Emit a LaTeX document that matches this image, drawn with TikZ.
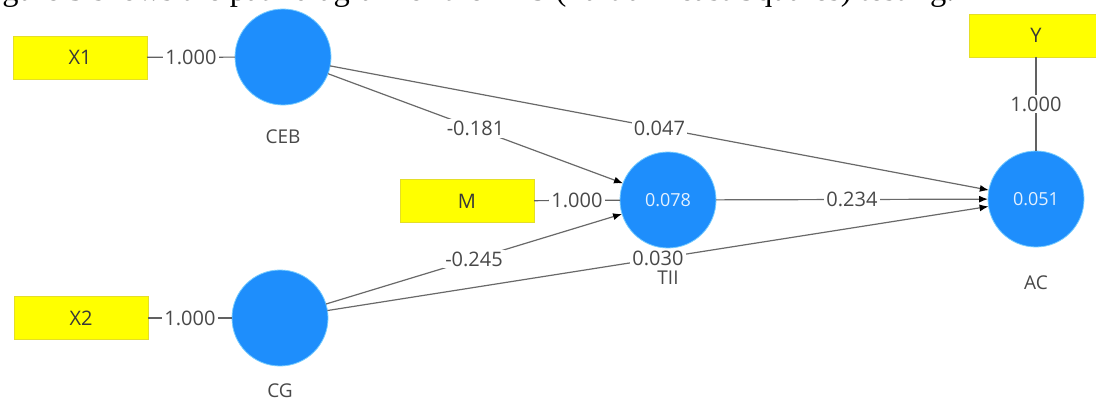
\documentclass[tikz,border=0pt]{standalone}
\usepackage{fontspec}
\setmainfont{Open Sans}
\newfontfamily\capfont{Liberation Serif}
\usetikzlibrary{arrows.meta}
\definecolor{lv}{RGB}{30,142,252}
\definecolor{lvedge}{RGB}{120,205,255}
\definecolor{mv}{RGB}{255,255,0}
\definecolor{mvedge}{RGB}{228,222,40}
\definecolor{txt}{RGB}{72,72,72}
\definecolor{edgegrey}{RGB}{105,105,105}

\begin{document}
\begin{tikzpicture}[x=1pt,y=-1pt,
  latent/.style={circle,fill=lv,draw=lvedge,line width=0.8pt,minimum size=96pt,
    inner sep=0pt,outer sep=0pt,text=white!88!lv,font=\fontsize{18}{20}\selectfont},
  indicator/.style={rectangle,fill=mv,draw=mvedge,line width=0.6pt,minimum width=134pt,
    minimum height=43pt,inner sep=0pt,outer sep=0pt,text=black!78,font=\fontsize{20}{22}\selectfont},
  lvname/.style={text=txt,font=\fontsize{19}{21}\selectfont},
  lbl/.style={fill=white,text=txt,inner sep=2pt,font=\fontsize{20}{22}\selectfont},
  loading/.style={draw=black!62,line width=1.2pt},
  effect/.style={draw=edgegrey,line width=1.2pt,-{Latex[length=9pt,width=7pt,color=black]}}]

\useasboundingbox (0,0) rectangle (1096,402);
\clip (0,0) rectangle (1096,402);
\fill[white] (0,0) rectangle (1096,402);

% caption line running above the diagram
\node[anchor=base west,inner sep=0pt,font=\capfont\fontsize{32.5}{38}\selectfont] (cap) at (-25,0.5)
  {Figure 3 shows the path diagram of the PLS (Partial Least Squares) testing.};

% indicators
\node[indicator] (X1) at (80,57.5) {X1};
\node[indicator] (X2) at (81,318) {X2};
\node[indicator] (M)  at (467,201) {M};
\node[indicator] (Y)  at (1036,35.5) {Y};

% latent variables
\node[latent] (CEB) at (283,57) {};
\node[latent] (CG)  at (280,318) {};
\node[latent] (TII) at (668,200) {0.078};
\node[latent] (AC)  at (1036,199) {0.051};

% latent variable names
\node[lvname] (nCEB) at (283,137) {CEB};
\node[lvname] (nCG)  at (280,391) {CG};
\node[lvname] (nTII) at (668,278) {TII};
\node[lvname] (nAC)  at (1036,283) {AC};

% outer loadings
\draw[loading] (X1) -- node[lbl]{1.000} (CEB);
\draw[loading] (X2) -- node[lbl]{1.000} (CG);
\draw[loading] (M)  -- node[lbl]{1.000} (TII);
\draw[loading] (Y)  -- node[lbl]{1.000} (AC);

% path coefficients
\draw[effect] (CEB) -- node[lbl]{0.047} (AC);
\draw[effect] (CEB) -- node[lbl]{-0.181} (TII);
\draw[effect] (CG)  -- node[lbl]{-0.245} (TII);
\draw[effect] (CG)  -- node[lbl]{0.030} (AC);
\draw[effect] (TII) -- node[lbl]{0.234} (AC);
\end{tikzpicture}
\end{document}
